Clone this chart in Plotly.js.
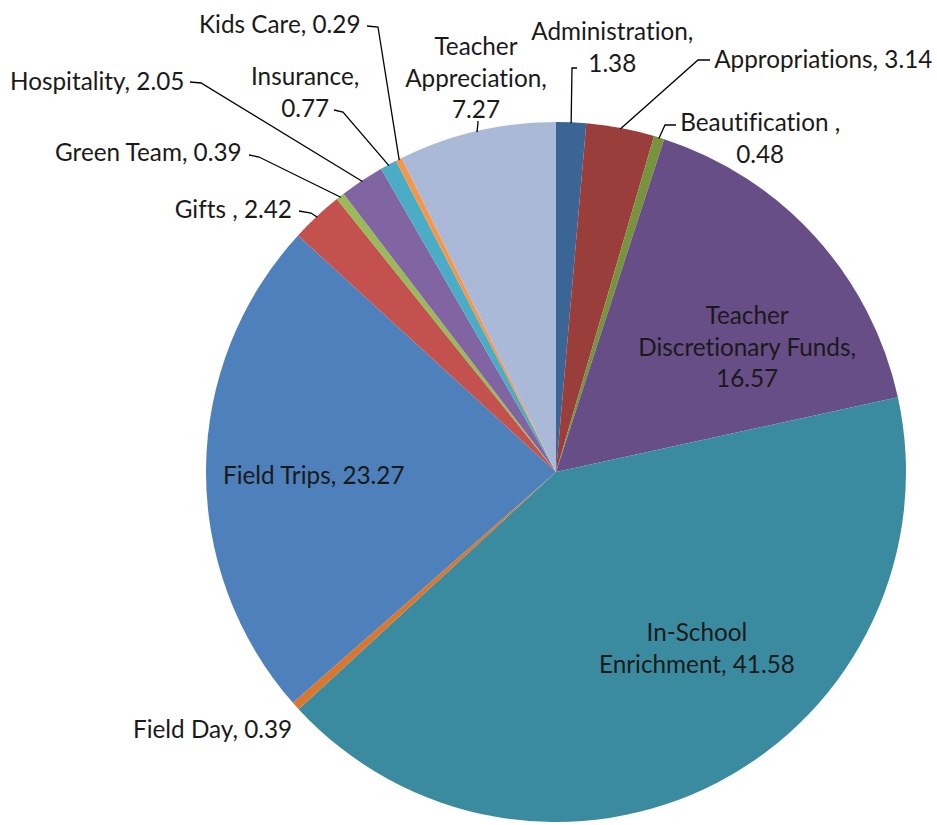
<!DOCTYPE html>
<html><head><meta charset="utf-8">
<script src="https://cdn.plot.ly/plotly-3.0.1.min.js"></script>
<style>html,body{margin:0;padding:0;background:#fff}#chart{width:937px;height:825px}
#chart text{font-variant-ligatures:none;font-feature-settings:"liga" 0,"clig" 0,"dlig" 0}</style>
</head><body><div id="chart"></div>
<script>
const categories = ["Administration","Appropriations","Beautification ","Teacher Discretionary Funds","In-School Enrichment","Field Day","Field Trips","Gifts ","Green Team","Hospitality","Insurance","Kids Care","Teacher Appreciation"];
const values = [1.38,3.14,0.48,16.57,41.58,0.39,23.27,2.42,0.39,2.05,0.77,0.29,7.27];
const colors = ["#3A6595","#9A3E3B","#77943D","#674E87","#3A8BA0","#D9772F","#4E80BC","#C3514E","#9ABA59","#8065A2","#4BACC6","#F79646","#A9B9D7"];
// label text lines per category
const labelLines = [
  ["Administration,", "{v}"],
  ["Appropriations, {v}"],
  ["Beautification ,", "{v}"],
  ["Teacher", "Discretionary Funds,", "{v}"],
  ["In-School", "Enrichment, {v}"],
  ["Field Day, {v}"],
  ["Field Trips, {v}"],
  ["Gifts , {v}"],
  ["Green Team, {v}"],
  ["Hospitality, {v}"],
  ["Insurance,", "{v}"],
  ["Kids Care, {v}"],
  ["Teacher", "Appreciation,", "{v}"]
];

const W = 937, H = 825;
const cx = 556, cy = 472, R = 350;
// label placement: [x, y, xanchor, leader start, leader elbow]
const place = [
  [612, 46, "center", [577,68], [572,68]],
  [712, 58, "left", [710,60], [698,60]],
  [678, 137, "left", [676,125], [665,125]],
  [747, 346, "center", null, null],
  [697, 647, "center", null, null],
  [212, 728, "center", null, null],
  [314, 474, "center", null, null],
  [294, 208, "right", [299,211], [311,213]],
  [244, 151, "right", [249,155], [259,157]],
  [186, 80, "right", [190,82], [201,83]],
  [305, 91, "center", [334,110], [343,112]],
  [363, 23, "right", [367,26], [378,27]],
  [476, 77, "center", [478,121], [478,123]]
];

const total = values.reduce((a,b)=>a+b,0);
const annotations = [], shapes = [];
let cum = 0;
values.forEach((v,i)=>{
  const mid = (cum + v/2)/total; cum += v;
  const th = mid*2*Math.PI;
  const ex = cx + (R-1)*Math.sin(th), ey = cy - (R-1)*Math.cos(th);
  const p = place[i];
  const txt = labelLines[i].map(s=>s.replace("{v}", v.toFixed(2))).join("<br>");
  annotations.push({xref:"x", yref:"y", x:p[0], y:p[1], text:txt, showarrow:false,
    xanchor:p[2], yanchor:"middle", align:"center",
    font:{family:"Lato, 'Open Sans', sans-serif", size:24.3, color:"#1a1a1a"}});
  if (p[3]) {
    shapes.push({type:"path", xref:"x", yref:"y",
      path:`M ${p[3][0]} ${p[3][1]} L ${p[4][0]} ${p[4][1]} L ${ex} ${ey}`,
      line:{color:"#000", width:1.3}});
  }
});

const data = [
  {type:"scatter", x:[], y:[], showlegend:false, hoverinfo:"skip"},
  {type:"pie", labels:categories, values:values, sort:false, direction:"clockwise", rotation:0,
   marker:{colors:colors, line:{width:0}}, textinfo:"none", hoverinfo:"label+value", showlegend:false,
   domain:{x:[(cx-R)/W,(cx+R)/W], y:[1-(cy+R)/H, 1-(cy-R)/H]}}
];
const layout = {
  width:W, height:H, margin:{l:0,r:0,t:0,b:0}, paper_bgcolor:"#fff", plot_bgcolor:"rgba(0,0,0,0)",
  showlegend:false,
  xaxis:{range:[0,W], visible:false, fixedrange:true},
  yaxis:{range:[H,0], visible:false, fixedrange:true},
  annotations:annotations, shapes:shapes
};
Plotly.newPlot("chart", data, layout, {displayModeBar:false, staticPlot:true});
</script></body></html>
